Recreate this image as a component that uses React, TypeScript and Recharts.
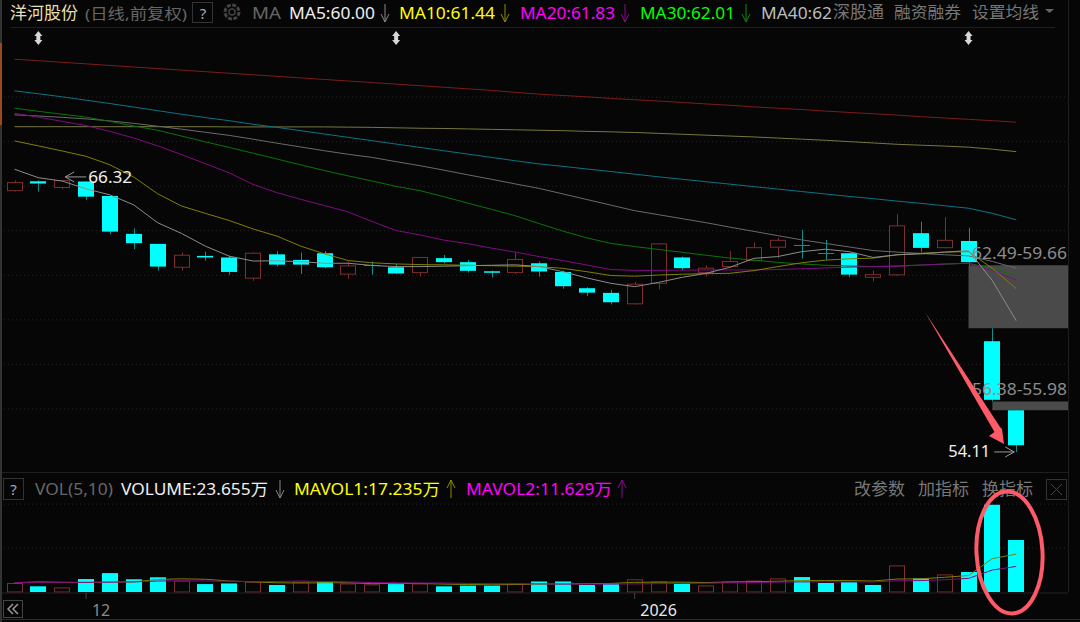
import { Bar, CartesianGrid, ComposedChart, Line, ReferenceArea, ReferenceDot, XAxis, YAxis } from "recharts";

// daily prices, oldest first
const opens = [65.84, 66.26, 65.98, 66.25, 65.6, 63.9, 63.45, 62.4, 62.91, 62.84, 61.91, 62.98, 62.73, 63.03, 62.09, 62.49, 62.4, 62.16, 62.81, 62.63, 62.22, 62.16, 62.58, 62.19, 61.46, 61.25, 60.76, 61.68, 62.84, 62.16, 62.43, 62.7, 63.3, 63.4, 63.03, 63.03, 61.95, 62.06, 63.93, 63.28, 63.58, 59.08, 55.98];
const closes = [66.2, 66.16, 66.29, 65.57, 64.0, 63.48, 62.43, 62.94, 62.84, 62.19, 63.03, 62.52, 62.52, 62.4, 62.46, 62.49, 62.12, 62.84, 62.63, 62.24, 62.18, 62.75, 62.21, 61.55, 61.26, 60.83, 61.64, 63.45, 62.36, 62.36, 62.66, 63.28, 63.61, 63.4, 63.03, 62.07, 62.07, 64.26, 63.27, 63.61, 62.63, 56.45, 54.41];
const highs = [66.3, 66.3, 66.32, 66.25, 65.6, 64.15, 63.45, 63.07, 63.1, 62.91, 63.07, 63.13, 63.06, 63.13, 62.66, 62.66, 62.55, 62.85, 62.95, 62.73, 62.25, 63.07, 62.66, 62.25, 61.5, 61.38, 61.74, 63.48, 62.88, 62.48, 63.13, 63.52, 63.72, 64.08, 63.63, 63.06, 62.25, 64.78, 64.44, 64.65, 64.17, 59.66, 55.98];
const lows = [65.8, 65.8, 65.9, 65.42, 63.88, 63.21, 62.25, 62.25, 62.7, 62.06, 61.79, 62.43, 62.1, 62.36, 61.89, 62.07, 62.1, 61.98, 62.58, 62.16, 61.94, 62.1, 61.98, 61.44, 61.11, 60.73, 60.73, 61.41, 62.25, 61.98, 62.39, 62.66, 62.81, 62.79, 62.73, 61.95, 61.76, 62.01, 63.1, 63.25, 62.49, 56.38, 54.11];

const ma5 = [66.8, 66.42, 66.27, 65.92, 65.65, 65.2, 64.4, 63.92, 63.35, 62.9, 62.68, 62.69, 62.65, 62.58, 62.58, 62.48, 62.43, 62.43, 62.45, 62.47, 62.49, 62.51, 62.43, 62.2, 61.92, 61.68, 61.53, 61.72, 61.95, 62.13, 62.4, 62.8, 62.88, 63.1, 63.21, 63.1, 62.84, 62.96, 63.0, 63.08, 63.15, 61.8, 60.0];
const ma10 = [68.07, 67.85, 67.62, 67.38, 67.0, 66.45, 65.7, 65.15, 64.82, 64.5, 64.12, 63.8, 63.35, 63.0, 62.7, 62.6, 62.55, 62.52, 62.51, 62.49, 62.47, 62.45, 62.43, 62.35, 62.2, 62.03, 62.0, 62.05, 62.09, 62.11, 62.13, 62.25, 62.43, 62.6, 62.72, 62.78, 62.81, 62.96, 63.03, 63.08, 63.1, 62.35, 61.44];
const ma20 = [69.31, 69.14, 68.95, 68.76, 68.5, 68.2, 67.85, 67.46, 67.05, 66.64, 66.12, 65.75, 65.45, 65.17, 64.88, 64.45, 64.05, 63.85, 63.62, 63.46, 63.26, 63.08, 62.88, 62.7, 62.5, 62.3, 62.26, 62.26, 62.27, 62.28, 62.28, 62.28, 62.3, 62.33, 62.37, 62.41, 62.43, 62.44, 62.5, 62.55, 62.58, 62.25, 61.83];
const ma30 = [69.54, 69.4, 69.27, 69.14, 68.95, 68.74, 68.55, 68.29, 68.03, 67.78, 67.52, 67.26, 67.0, 66.74, 66.5, 66.27, 66.03, 65.84, 65.57, 65.28, 65.0, 64.71, 64.36, 64.02, 63.72, 63.47, 63.33, 63.2, 63.07, 62.94, 62.81, 62.72, 62.62, 62.55, 62.49, 62.46, 62.43, 62.46, 62.5, 62.54, 62.58, 62.35, 62.01];
const ma40 = [69.24, 69.19, 69.13, 69.06, 68.97, 68.86, 68.73, 68.6, 68.46, 68.32, 68.15, 67.97, 67.8, 67.63, 67.47, 67.33, 67.14, 66.96, 66.76, 66.55, 66.35, 66.14, 65.94, 65.69, 65.44, 65.19, 64.94, 64.76, 64.58, 64.4, 64.2, 64.01, 63.82, 63.63, 63.47, 63.31, 63.15, 63.08, 63.02, 62.96, 62.91, 62.66, 62.36];
const ma60 = [70.32, 70.19, 70.05, 69.9, 69.75, 69.59, 69.43, 69.27, 69.12, 68.98, 68.82, 68.68, 68.53, 68.38, 68.23, 68.08, 67.93, 67.78, 67.63, 67.48, 67.33, 67.18, 67.04, 66.93, 66.81, 66.7, 66.58, 66.46, 66.35, 66.24, 66.13, 66.02, 65.91, 65.8, 65.69, 65.58, 65.48, 65.37, 65.27, 65.16, 65.05, 64.82, 64.53];
const ma120 = [68.71, 68.71, 68.71, 68.71, 68.71, 68.71, 68.71, 68.71, 68.71, 68.7, 68.7, 68.7, 68.7, 68.7, 68.69, 68.68, 68.66, 68.64, 68.63, 68.61, 68.59, 68.57, 68.55, 68.53, 68.5, 68.48, 68.45, 68.41, 68.37, 68.33, 68.29, 68.25, 68.2, 68.15, 68.1, 68.04, 67.98, 67.92, 67.88, 67.84, 67.79, 67.7, 67.59];
const ma250 = [71.74, 71.67, 71.6, 71.53, 71.46, 71.39, 71.32, 71.25, 71.18, 71.11, 71.04, 70.97, 70.9, 70.83, 70.76, 70.69, 70.62, 70.55, 70.48, 70.41, 70.34, 70.25, 70.17, 70.11, 70.05, 69.98, 69.92, 69.86, 69.8, 69.73, 69.67, 69.6, 69.54, 69.48, 69.41, 69.35, 69.29, 69.23, 69.16, 69.1, 69.04, 68.98, 68.91];

// volume in 万
const volumes = [4.1, 2.6, 2.1, 5.9, 8.6, 5.8, 6.7, 5.2, 3.6, 3.9, 4.7, 3.2, 4.7, 4.7, 3.9, 3.5, 3.6, 3.9, 2.6, 2.9, 2.9, 3.9, 4.8, 4.8, 3.2, 3.9, 5.8, 4.8, 4.2, 3.0, 4.7, 5.2, 6.2, 6.8, 4.1, 4.5, 3.2, 12.1, 6.2, 8.0, 9.1, 39.7, 23.655];
const volumeUp = [1, 0, 1, 0, 0, 0, 0, 1, 0, 0, 1, 0, 1, 0, 1, 1, 0, 1, 0, 0, 0, 1, 0, 0, 0, 0, 1, 1, 0, 1, 1, 1, 1, 0, 0, 0, 0, 1, 0, 1, 0, 0, 0];
const mavol1 = [4.2, 4.6, 4.4, 4.3, 4.5, 4.6, 5.7, 6.0, 5.8, 5.0, 4.6, 4.2, 4.1, 4.2, 4.2, 3.8, 3.9, 3.9, 3.6, 3.4, 3.3, 3.4, 3.6, 3.7, 3.8, 3.9, 4.4, 4.5, 4.5, 4.3, 4.6, 4.7, 4.9, 5.2, 5.2, 5.2, 5.0, 5.9, 6.0, 6.7, 7.5, 15.2, 17.235];
const mavol2 = [4.3, 4.4, 4.4, 4.4, 4.5, 4.6, 5.0, 5.1, 5.0, 4.9, 4.7, 4.8, 5.0, 4.8, 4.6, 4.3, 4.2, 4.1, 4.1, 3.9, 3.8, 3.8, 3.7, 3.6, 3.6, 3.6, 3.7, 3.8, 3.9, 4.0, 4.2, 4.3, 4.5, 4.6, 4.6, 4.6, 4.6, 5.1, 5.2, 5.6, 6.2, 10.0, 11.629];

const priceGrid = [56.04, 58.04, 60.04, 62.04, 64.04, 66.04, 68.04, 70.04];
const volumeGrid = [20, 40];
const markerDays = [1, 16, 40];
const dateTicks = [3, 26];
const dateLabels: Record<number, string> = { 3: "12", 26: "2026" };
const dateColors: Record<number, string> = { 3: "#8a8a8a", 26: "#e8e8e8" };

const maLines: [string, number[], string][] = [
  ["ma250", ma250, "#7a1c1c"],
  ["ma120", ma120, "#77773f"],
  ["ma60", ma60, "#0d7384"],
  ["ma40", ma40, "#6a6a6a"],
  ["ma30", ma30, "#0a740a"],
  ["ma20", ma20, "#820a82"],
  ["ma10", ma10, "#808000"],
  ["ma5", ma5, "#8c8c8c"],
];

const days = opens.map((_, i) => i);
const priceRows = days.map((i) => {
  const row: Record<string, number> = { i, open: opens[i], close: closes[i], high: highs[i], low: lows[i] };
  maLines.forEach(([key, values]) => {
    row[key] = values[i];
  });
  return row;
});
const volumeRows = days.map((i) => ({ i, vol: volumes[i], up: volumeUp[i], mavol1: mavol1[i], mavol2: mavol2[i] }));

const BG = "#060606";
const CYAN = "#00ffff";
const RED = "#7d2e2e";
const TEAL = "#0c8f8f";
const XDOMAIN = [-0.608, 44.17];
const SANS = "'Noto Sans', 'Noto Sans CJK SC', sans-serif";

function Candle(props: any) {
  const { x, y, width, height, payload } = props;
  const span = payload.high - payload.low || 1;
  const at = (v: number) => y + ((payload.high - v) / span) * height;
  const top = at(Math.max(payload.open, payload.close));
  const bottom = at(Math.min(payload.open, payload.close));
  const mid = Math.round(x + width / 2) + 0.5;
  const up = payload.close > payload.open;
  const flat = payload.close === payload.open;
  const left = Math.round(x);
  return (
    <g>
      <line x1={mid} x2={mid} y1={y} y2={y + height} stroke={up ? RED : TEAL} />
      {flat ? (
        <line x1={left} x2={left + width} y1={Math.round(top) + 0.5} y2={Math.round(top) + 0.5} stroke={TEAL} />
      ) : up ? (
        <rect x={left + 0.5} y={top} width={width - 1} height={Math.max(bottom - top, 1)} fill={BG} stroke={RED} />
      ) : (
        <rect x={left} y={top} width={width} height={Math.max(bottom - top, 1.5)} fill={CYAN} />
      )}
    </g>
  );
}

function VolumeBar(props: any) {
  const { x, y, width, height, payload } = props;
  const left = Math.round(x);
  return payload.up ? (
    <rect x={left + 0.5} y={y + 0.5} width={width - 1} height={height - 0.5} fill="none" stroke={RED} />
  ) : (
    <rect x={left} y={y} width={width} height={height} fill={CYAN} />
  );
}

function DayMarker(props: any) {
  const { cx, cy } = props;
  return (
    <g fill="#d8d8d8">
      <polygon points={`${cx},${cy - 7} ${cx + 4},${cy - 2} ${cx - 4},${cy - 2}`} />
      <polygon points={`${cx},${cy + 7} ${cx + 4},${cy + 2} ${cx - 4},${cy + 2}`} />
      <rect x={cx - 2} y={cy - 3} width={4} height={6} />
    </g>
  );
}

function HighLabel(props: any) {
  const { cx, cy } = props;
  return (
    <g>
      <path d={`M${cx + 3} ${cy - 3}H${cx + 24} M${cx + 3} ${cy - 3}L${cx + 12} ${cy - 8} M${cx + 3} ${cy - 3}L${cx + 12} ${cy + 2}`} stroke="#999" fill="none" />
      <text x={cx + 26} y={cy + 3} fill="#f0f0f0" fontSize={17} fontFamily={SANS} textLength={44} lengthAdjust="spacingAndGlyphs">66.32</text>
    </g>
  );
}

function LowLabel(props: any) {
  const { cx, cy } = props;
  return (
    <g>
      <path d={`M${cx - 22} ${cy}H${cx - 2} M${cx - 2} ${cy}L${cx - 11} ${cy - 5} M${cx - 2} ${cy}L${cx - 11} ${cy + 5}`} stroke="#999" fill="none" />
      <text x={cx - 68} y={cy + 5} fill="#f0f0f0" fontSize={17} fontFamily={SANS} textLength={42} lengthAdjust="spacingAndGlyphs">54.11</text>
    </g>
  );
}

function GapLabel(props: any) {
  const { cx, cy, text } = props;
  return (
    <text x={cx - 96} y={cy - 6} fill="#8c8c8c" fontSize={17} fontFamily={SANS} textLength={95} lengthAdjust="spacingAndGlyphs">{text}</text>
  );
}

function DateTick(props: any) {
  const { x, y, payload } = props;
  return (
    <text x={x + (payload.value === 3 ? 15 : 24)} y={y + 15} textAnchor="middle" fontSize={16} fontFamily={SANS} fill={dateColors[payload.value]}>
      {dateLabels[payload.value]}
    </text>
  );
}

function PriceChart() {
  return (
    <ComposedChart width={1080} height={472} data={priceRows} margin={{ top: 28, right: 12, bottom: 0, left: 0 }} style={{ position: "absolute", left: 0, top: 0 }}>
      <XAxis dataKey="i" type="number" domain={XDOMAIN} ticks={days} hide allowDataOverflow />
      <YAxis type="number" domain={[53.21, 73.14]} hide allowDataOverflow />
      <CartesianGrid vertical={false} horizontalValues={priceGrid} stroke="#262626" strokeDasharray="1 3" />
      <ReferenceArea x1={40} x2={XDOMAIN[1]} y1={59.66} y2={62.49} fill="#4a4a4a" fillOpacity={1} stroke="none" />
      <ReferenceArea x1={41} x2={XDOMAIN[1]} y1={55.98} y2={56.38} fill="#4a4a4a" fillOpacity={1} stroke="none" />
      <Bar dataKey={(d: any) => [d.low, d.high]} barSize={16} shape={Candle} isAnimationActive={false} />
      {maLines.map(([key, , color]) => (
        <Line key={key} dataKey={key} stroke={color} strokeWidth={1} dot={false} type="linear" isAnimationActive={false} />
      ))}
      <ReferenceDot x={XDOMAIN[1]} y={62.49} shape={(p: any) => <GapLabel {...p} text="62.49-59.66" />} />
      <ReferenceDot x={XDOMAIN[1]} y={56.38} shape={(p: any) => <GapLabel {...p} text="56.38-55.98" />} />
      {markerDays.map((d) => (
        <ReferenceDot key={d} x={d} y={72.69} shape={DayMarker} />
      ))}
      <ReferenceDot x={2} y={66.32} shape={HighLabel} />
      <ReferenceDot x={42} y={54.11} shape={LowLabel} />
    </ComposedChart>
  );
}

function VolumeChart() {
  return (
    <ComposedChart width={1080} height={150} data={volumeRows} margin={{ top: 0, right: 12, bottom: 0, left: 0 }} style={{ position: "absolute", left: 0, top: 472 }}>
      <XAxis dataKey="i" type="number" domain={XDOMAIN} ticks={dateTicks} interval={0} height={29} axisLine={{ stroke: "#222" }} tickLine={{ stroke: "#444" }} tickSize={6} tick={DateTick} allowDataOverflow />
      <YAxis type="number" domain={[-0.45, 54.6]} hide allowDataOverflow />
      <CartesianGrid vertical={false} horizontalValues={volumeGrid} stroke="#262626" strokeDasharray="1 3" />
      <Bar dataKey="vol" barSize={16} shape={VolumeBar} isAnimationActive={false} />
      <Line dataKey="mavol1" stroke="#808000" strokeWidth={1} dot={false} type="linear" isAnimationActive={false} />
      <Line dataKey="mavol2" stroke="#820a82" strokeWidth={1} dot={false} type="linear" isAnimationActive={false} />
    </ComposedChart>
  );
}

// text row items: text, x, width, baseline y, colour, size
const labels: [string, number, number, number, string, number][] = [
  ["洋河股份", 10, 68, 19, "#e6dfae", 17],
  ["(日线,前复权)", 85, 102, 19, "#666666", 15],
  ["MA", 252, 29, 19, "#666666", 16],
  ["MA5:60.00", 289, 86, 19, "#eeeeee", 17],
  ["MA10:61.44", 399, 96, 19, "#ffff00", 17],
  ["MA20:61.83", 520, 95, 19, "#ff00ff", 17],
  ["MA30:62.01", 640, 95, 19, "#00ff00", 17],
  ["MA40:62", 761, 71, 19, "#bdbdbd", 17],
  ["深股通", 833, 51, 18, "#777777", 17],
  ["融资融券", 894, 67, 18, "#777777", 16],
  ["设置均线", 972, 67, 18, "#777777", 16],
  ["VOL(5,10)", 35, 78, 495, "#666666", 16],
  ["VOLUME:23.655万", 121, 147, 495, "#eeeeee", 16],
  ["MAVOL1:17.235万", 294, 146, 495, "#ffff00", 16],
  ["MAVOL2:11.629万", 466, 146, 495, "#ff00ff", 16],
  ["改参数", 854, 51, 495, "#777777", 17],
  ["加指标", 918, 51, 495, "#777777", 17],
  ["换指标", 982, 51, 495, "#777777", 17],
];

// trend arrows next to the readouts: x, y, up?, colour
const trendArrows: [number, number, boolean, string][] = [
  [385, 13, false, "#888888"],
  [505, 13, false, "#8c8c00"],
  [625, 13, false, "#8a0a8a"],
  [746, 13, false, "#0a8a0a"],
  [280, 489, false, "#888888"],
  [451, 489, true, "#8c8c00"],
  [622, 489, true, "#8a0a8a"],
];

function TrendArrow({ x, y, up, color }: { x: number; y: number; up: boolean; color: string }) {
  const tip = up ? y - 9 : y + 9;
  const tail = up ? y + 9 : y - 9;
  const wing = up ? tip + 8 : tip - 8;
  return <path d={`M${x} ${tail}V${tip} M${x - 4} ${wing}L${x} ${tip}L${x + 4} ${wing}`} stroke={color} fill="none" />;
}

function Overlay() {
  return (
    <svg width={1080} height={622} style={{ position: "absolute", left: 0, top: 0, pointerEvents: "none" }}>
      <rect x={0} y={0} width={2} height={622} fill="#333" />
      <rect x={0} y={43} width={2} height={82} fill="#9a4a1c" />
      <line x1={10} x2={1055} y1={27.5} y2={27.5} stroke="#1e1e1e" />
      <line x1={1068.5} x2={1068.5} y1={0} y2={592} stroke="#1e1e1e" />
      <line x1={2} x2={1068} y1={472.5} y2={472.5} stroke="#1e1e1e" />
      <line x1={2} x2={1080} y1={619.5} y2={619.5} stroke="#2a2a2a" />
      {labels.map(([text, x, w, y, color, size]) => (
        <text key={text} x={x} y={y} fill={color} fontSize={size} fontFamily={SANS} textLength={w} lengthAdjust="spacingAndGlyphs">{text}</text>
      ))}
      {trendArrows.map(([x, y, up, color], i) => (
        <TrendArrow key={i} x={x} y={y} up={up} color={color} />
      ))}
      <rect x={192.5} y={2.5} width={20} height={20} fill="none" stroke="#333" />
      <text x={203} y={19} textAnchor="middle" fontSize={15} fill="#aaaaaa" fontFamily={SANS}>?</text>
      <circle cx={232} cy={12} r={7} fill="none" stroke="#444" strokeWidth={3} strokeDasharray="4 1.5" />
      <circle cx={232} cy={12} r={3} fill="none" stroke="#444" strokeWidth={1.5} />
      <polygon points="1045,9 1054,9 1049.5,13" fill="#666" />
      <rect x={3.5} y={478.5} width={20} height={21} fill="none" stroke="#333" />
      <text x={13.5} y={495} textAnchor="middle" fontSize={15} fill="#aaaaaa" fontFamily={SANS}>?</text>
      <rect x={1046.5} y={479.5} width={20} height={20} fill="none" stroke="#333" />
      <path d="M1051 484L1062 495M1062 484L1051 495" stroke="#444" />
      <rect x={3.5} y={600.5} width={19} height={17} fill="none" stroke="#444" />
      <path d="M13 604L8 609L13 614M18 604L13 609L18 614" stroke="#999" fill="none" strokeWidth={1.5} />
      <polygon points="925,312 1000,427 1002,429 1004,444 989,436 994.5,432" fill="#ff5a68" />
      <ellipse cx={1009.5} cy={552.5} rx={33} ry={61} fill="none" stroke="#ff5a68" strokeWidth={4} transform="rotate(-3 1009.5 552.5)" />
    </svg>
  );
}

export default function App() {
  return (
    <div style={{ position: "fixed", left: 0, top: 0, width: 1080, height: 622, background: BG, overflow: "hidden" }}>
      <PriceChart />
      <VolumeChart />
      <Overlay />
    </div>
  );
}
